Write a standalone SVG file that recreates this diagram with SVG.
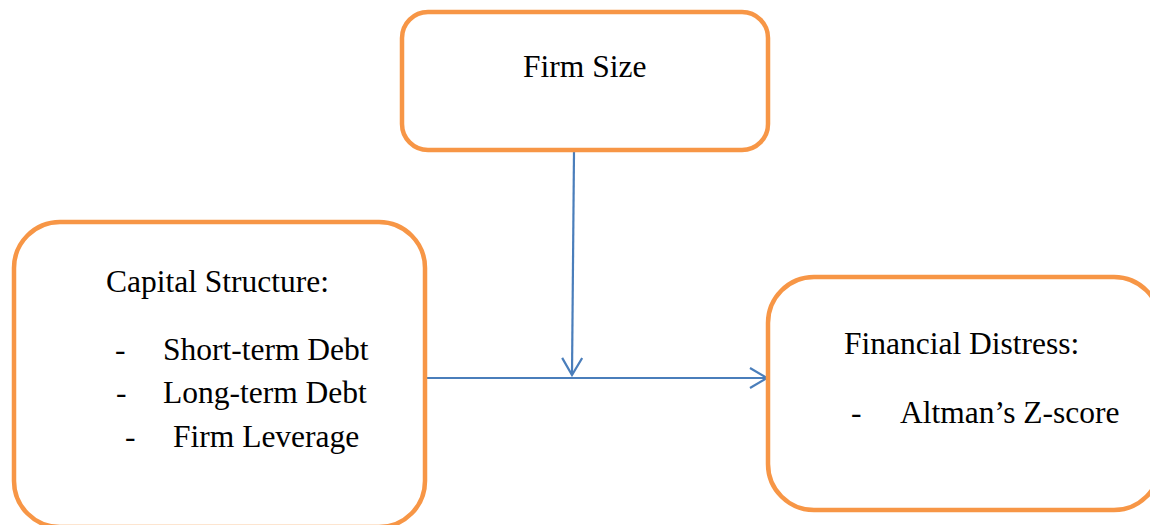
<svg xmlns="http://www.w3.org/2000/svg" width="1150" height="525" viewBox="0 0 1150 525">
<style>
.box{fill:#fff;stroke:#F79646;stroke-width:4.5}
.t{font-family:"Liberation Serif","Times New Roman",serif;font-size:31.5px;fill:#000}
.c{fill:none;stroke:#4A7EBB;stroke-width:2.2}
</style>
<defs>
<marker id="ah" viewBox="0 0 20 22" refX="18" refY="11" markerWidth="20" markerHeight="22" markerUnits="userSpaceOnUse" orient="auto">
<path d="M1,1 L18,11 L1,21" fill="none" stroke="#4A7EBB" stroke-width="2.2"/>
</marker>
</defs>
<rect width="1150" height="525" fill="#fff"/>
<g id="connectors">
<path class="c" d="M574,152 L572,375" marker-end="url(#ah)"/>
<path class="c" d="M425,378 L767,378" marker-end="url(#ah)"/>
</g>
<g id="firm-size">
<rect class="box" x="402" y="12" width="366" height="138" rx="26"/>
<text class="t" x="523" y="77">Firm Size</text>
</g>
<g id="capital-structure">
<rect class="box" x="14" y="222" width="411" height="305" rx="46"/>
<text class="t" x="106" y="292">Capital Structure:</text>
<text class="t" x="115" y="360">-</text>
<text class="t" x="163" y="360">Short-term Debt</text>
<text class="t" x="116" y="403">-</text>
<text class="t" x="163" y="403">Long-term Debt</text>
<text class="t" x="125" y="447">-</text>
<text class="t" x="173" y="447">Firm Leverage</text>
</g>
<g id="financial-distress">
<rect class="box" x="768" y="277" width="392" height="233" rx="46"/>
<text class="t" x="844" y="354">Financial Distress:</text>
<text class="t" x="851" y="423">-</text>
<text class="t" x="900" y="423">Altman’s Z-score</text>
</g>
</svg>
